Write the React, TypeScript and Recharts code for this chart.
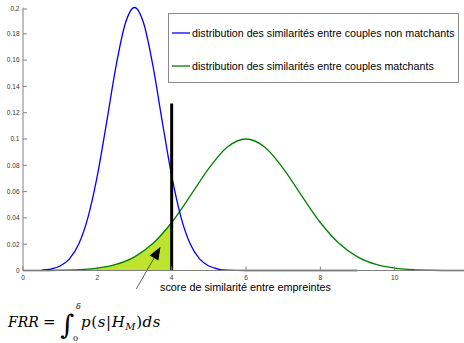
import React from "react";
import { ComposedChart, Line, Area, XAxis, YAxis, ReferenceLine } from "recharts";

// similarity score samples
const blueX = [0.5, 0.75, 1, 1.25, 1.5, 1.75, 2, 2.25, 2.5, 2.75, 3, 3.25, 3.5, 3.75, 4, 4.25, 4.5, 4.75, 5, 5.25, 5.5, 6, 7, 8, 9];
const blueY = [0.0003, 0.0011, 0.0034, 0.0088, 0.0201, 0.0406, 0.0721, 0.1127, 0.155, 0.1876, 0.2, 0.1876, 0.155, 0.1127, 0.0721, 0.0406, 0.0201, 0.0088, 0.0034, 0.0011, 0.0003, 0, 0, 0, 0];

const greenX = [0, 0.5, 1, 1.5, 2, 2.5, 3, 3.5, 4, 4.5, 5, 5.5, 6, 6.5, 7, 7.5, 8, 8.5, 9, 9.5, 10, 10.5, 11, 11.5, 12];
const greenY = [0, 0, 0.0002, 0.0006, 0.0018, 0.0046, 0.0104, 0.0207, 0.0365, 0.0567, 0.0777, 0.0939, 0.1, 0.0939, 0.0777, 0.0567, 0.0365, 0.0207, 0.0104, 0.0046, 0.0018, 0.0006, 0.0002, 0, 0];

const xTicks = [0, 2, 4, 6, 8, 10];
const topTicks = [2, 4, 6, 8, 10];
const yTicks = [0, 0.02, 0.04, 0.06, 0.08, 0.1, 0.12, 0.14, 0.16, 0.18, 0.2];
const yTickLabels = ["0", "0.02", "0.04", "0.06", "0.08", "0.1", "0.12", "0.14", "0.16", "0.18", "0.2"];

const seriesNames = [
  "distribution des similarités entre couples non matchants",
  "distribution des similarités entre couples matchants",
];
const xLabel = "score de similarité entre empreintes";

const threshold = 4;
const thresholdTop = 0.127;
const arrowTail = { x: 3.05, y: -0.014 };
const arrowTip = { x: 3.7, y: 0.018 };

const BLUE = "#0000ff";
const GREEN = "#008000";
const FILL = "#bde32e";
const AXIS = "#808080";
const FONT = "'Liberation Sans', Arial, sans-serif";
const SERIF = "'DejaVu Serif', serif";

const blueData = blueX.map((x, i) => ({ x, y: blueY[i] }));
const greenData = greenX.map((x, i) => ({ x, y: greenY[i] }));
const fillData = greenData.filter((d) => d.x <= threshold);

function BottomTick(props: any) {
  const { x, y, payload } = props;
  return (
    <g>
      <line x1={x} x2={x} y1={y} y2={y - 4} stroke={AXIS} />
      <text x={x} y={y + 9} textAnchor="middle" fontSize={6.5} fill="#333" fontFamily={FONT}>
        {payload.value}
      </text>
    </g>
  );
}

function TopTick(props: any) {
  const { x, y } = props;
  return <line x1={x} x2={x} y1={y} y2={y + 4} stroke={AXIS} />;
}

function LeftTick(props: any) {
  const { x, y, payload } = props;
  const idx = yTicks.indexOf(payload.value);
  return (
    <g>
      <line x1={x} x2={x + 4} y1={y} y2={y} stroke={AXIS} />
      <text x={x - 3.5} y={y + 2.3} textAnchor="end" fontSize={6.5} fill="#333" fontFamily={FONT}>
        {yTickLabels[idx]}
      </text>
    </g>
  );
}

function Arrow(props: any) {
  const { x1, y1, x2, y2 } = props;
  const dx = x2 - x1;
  const dy = y2 - y1;
  const len = Math.sqrt(dx * dx + dy * dy);
  const ux = dx / len;
  const uy = dy / len;
  const hl = 13;
  const hw = 5;
  const bx = x2 - ux * hl;
  const by = y2 - uy * hl;
  return (
    <g>
      <line x1={x1} y1={y1} x2={bx} y2={by} stroke="#333" strokeWidth={0.8} />
      <polygon
        points={`${x2},${y2} ${bx - uy * hw},${by + ux * hw} ${bx + uy * hw},${by - ux * hw}`}
        fill="#000"
      />
    </g>
  );
}

export default function App() {
  return (
    <div style={{ position: "absolute", left: 0, top: 0, width: 464, height: 343, overflow: "hidden", background: "#fff" }}>
      <ComposedChart width={469} height={343} margin={{ top: 7.5, right: 0, left: 0, bottom: 52.5 }}>
        <XAxis
          type="number"
          dataKey="x"
          domain={[0, 12]}
          ticks={xTicks}
          height={20}
          axisLine={{ stroke: AXIS }}
          tickLine={false}
          tickSize={0}
          tickMargin={0}
          tick={<BottomTick />}
          allowDuplicatedCategory={false}
        />
        <XAxis
          xAxisId="top"
          orientation="top"
          type="number"
          dataKey="x"
          domain={[0, 12]}
          ticks={topTicks}
          height={0}
          axisLine={{ stroke: AXIS }}
          tickLine={false}
          tickSize={0}
          tickMargin={0}
          tick={<TopTick />}
        />
        <YAxis
          type="number"
          domain={[0, 0.2]}
          ticks={yTicks}
          width={23}
          axisLine={{ stroke: AXIS }}
          tickLine={false}
          tickSize={0}
          tickMargin={0}
          tick={<LeftTick />}
        />
        <Area
          data={fillData}
          dataKey="y"
          type="monotone"
          fill={FILL}
          fillOpacity={1}
          stroke="none"
          isAnimationActive={false}
        />
        <Line
          data={greenData}
          dataKey="y"
          type="monotone"
          stroke={GREEN}
          strokeWidth={1.3}
          dot={false}
          isAnimationActive={false}
        />
        <Line
          data={blueData}
          dataKey="y"
          type="monotone"
          stroke={BLUE}
          strokeWidth={1.3}
          dot={false}
          isAnimationActive={false}
        />
        <ReferenceLine
          segment={[
            { x: threshold, y: 0 },
            { x: threshold, y: thresholdTop },
          ]}
          stroke="#000"
          strokeWidth={3}
        />
        <ReferenceLine
          segment={[arrowTail, arrowTip]}
          ifOverflow="visible"
          shape={<Arrow />}
        />
      </ComposedChart>

      <div
        style={{
          position: "absolute",
          left: 168,
          top: 13,
          width: 289,
          height: 68,
          border: "1px solid #888",
          background: "#fff",
          fontFamily: FONT,
          fontSize: 10.7,
          color: "#000",
        }}
      >
        {seriesNames.map((name, i) => (
          <div
            key={name}
            style={{ position: "absolute", left: 3, top: i === 0 ? 13 : 46, display: "flex", alignItems: "center", whiteSpace: "nowrap" }}
          >
            <svg width={20} height={6} style={{ display: "block" }}>
              <line x1={0} x2={18} y1={3} y2={3} stroke={i === 0 ? BLUE : GREEN} strokeWidth={1.3} />
            </svg>
            <span>{name}</span>
          </div>
        ))}
      </div>

      <svg width={464} height={343} style={{ position: "absolute", left: 0, top: 0, pointerEvents: "none" }}>
        <text x={160} y={291} fontFamily={FONT} fontSize={10.8} fill="#000">
          {xLabel}
        </text>
        <g fontFamily={SERIF} fill="#000">
          <text x={8} y={327} fontSize={14} fontStyle="italic">FRR</text>
          <text x={43} y={327} fontSize={15}>=</text>
          <text x={60} y={334} fontSize={27}>∫</text>
          <text x={76} y={309} fontSize={8} fontStyle="italic">δ</text>
          <text x={73} y={341} fontSize={8}>0</text>
          <text x={81} y={327} fontSize={15} letterSpacing={0.6}>
            <tspan fontStyle="italic">p</tspan>
            <tspan>(</tspan>
            <tspan fontStyle="italic">s</tspan>
            <tspan>|</tspan>
            <tspan fontStyle="italic">H</tspan>
            <tspan fontStyle="italic" fontSize={10} dy={3}>M</tspan>
            <tspan dy={-3}>)</tspan>
            <tspan fontStyle="italic">ds</tspan>
          </text>
        </g>
      </svg>
    </div>
  );
}
